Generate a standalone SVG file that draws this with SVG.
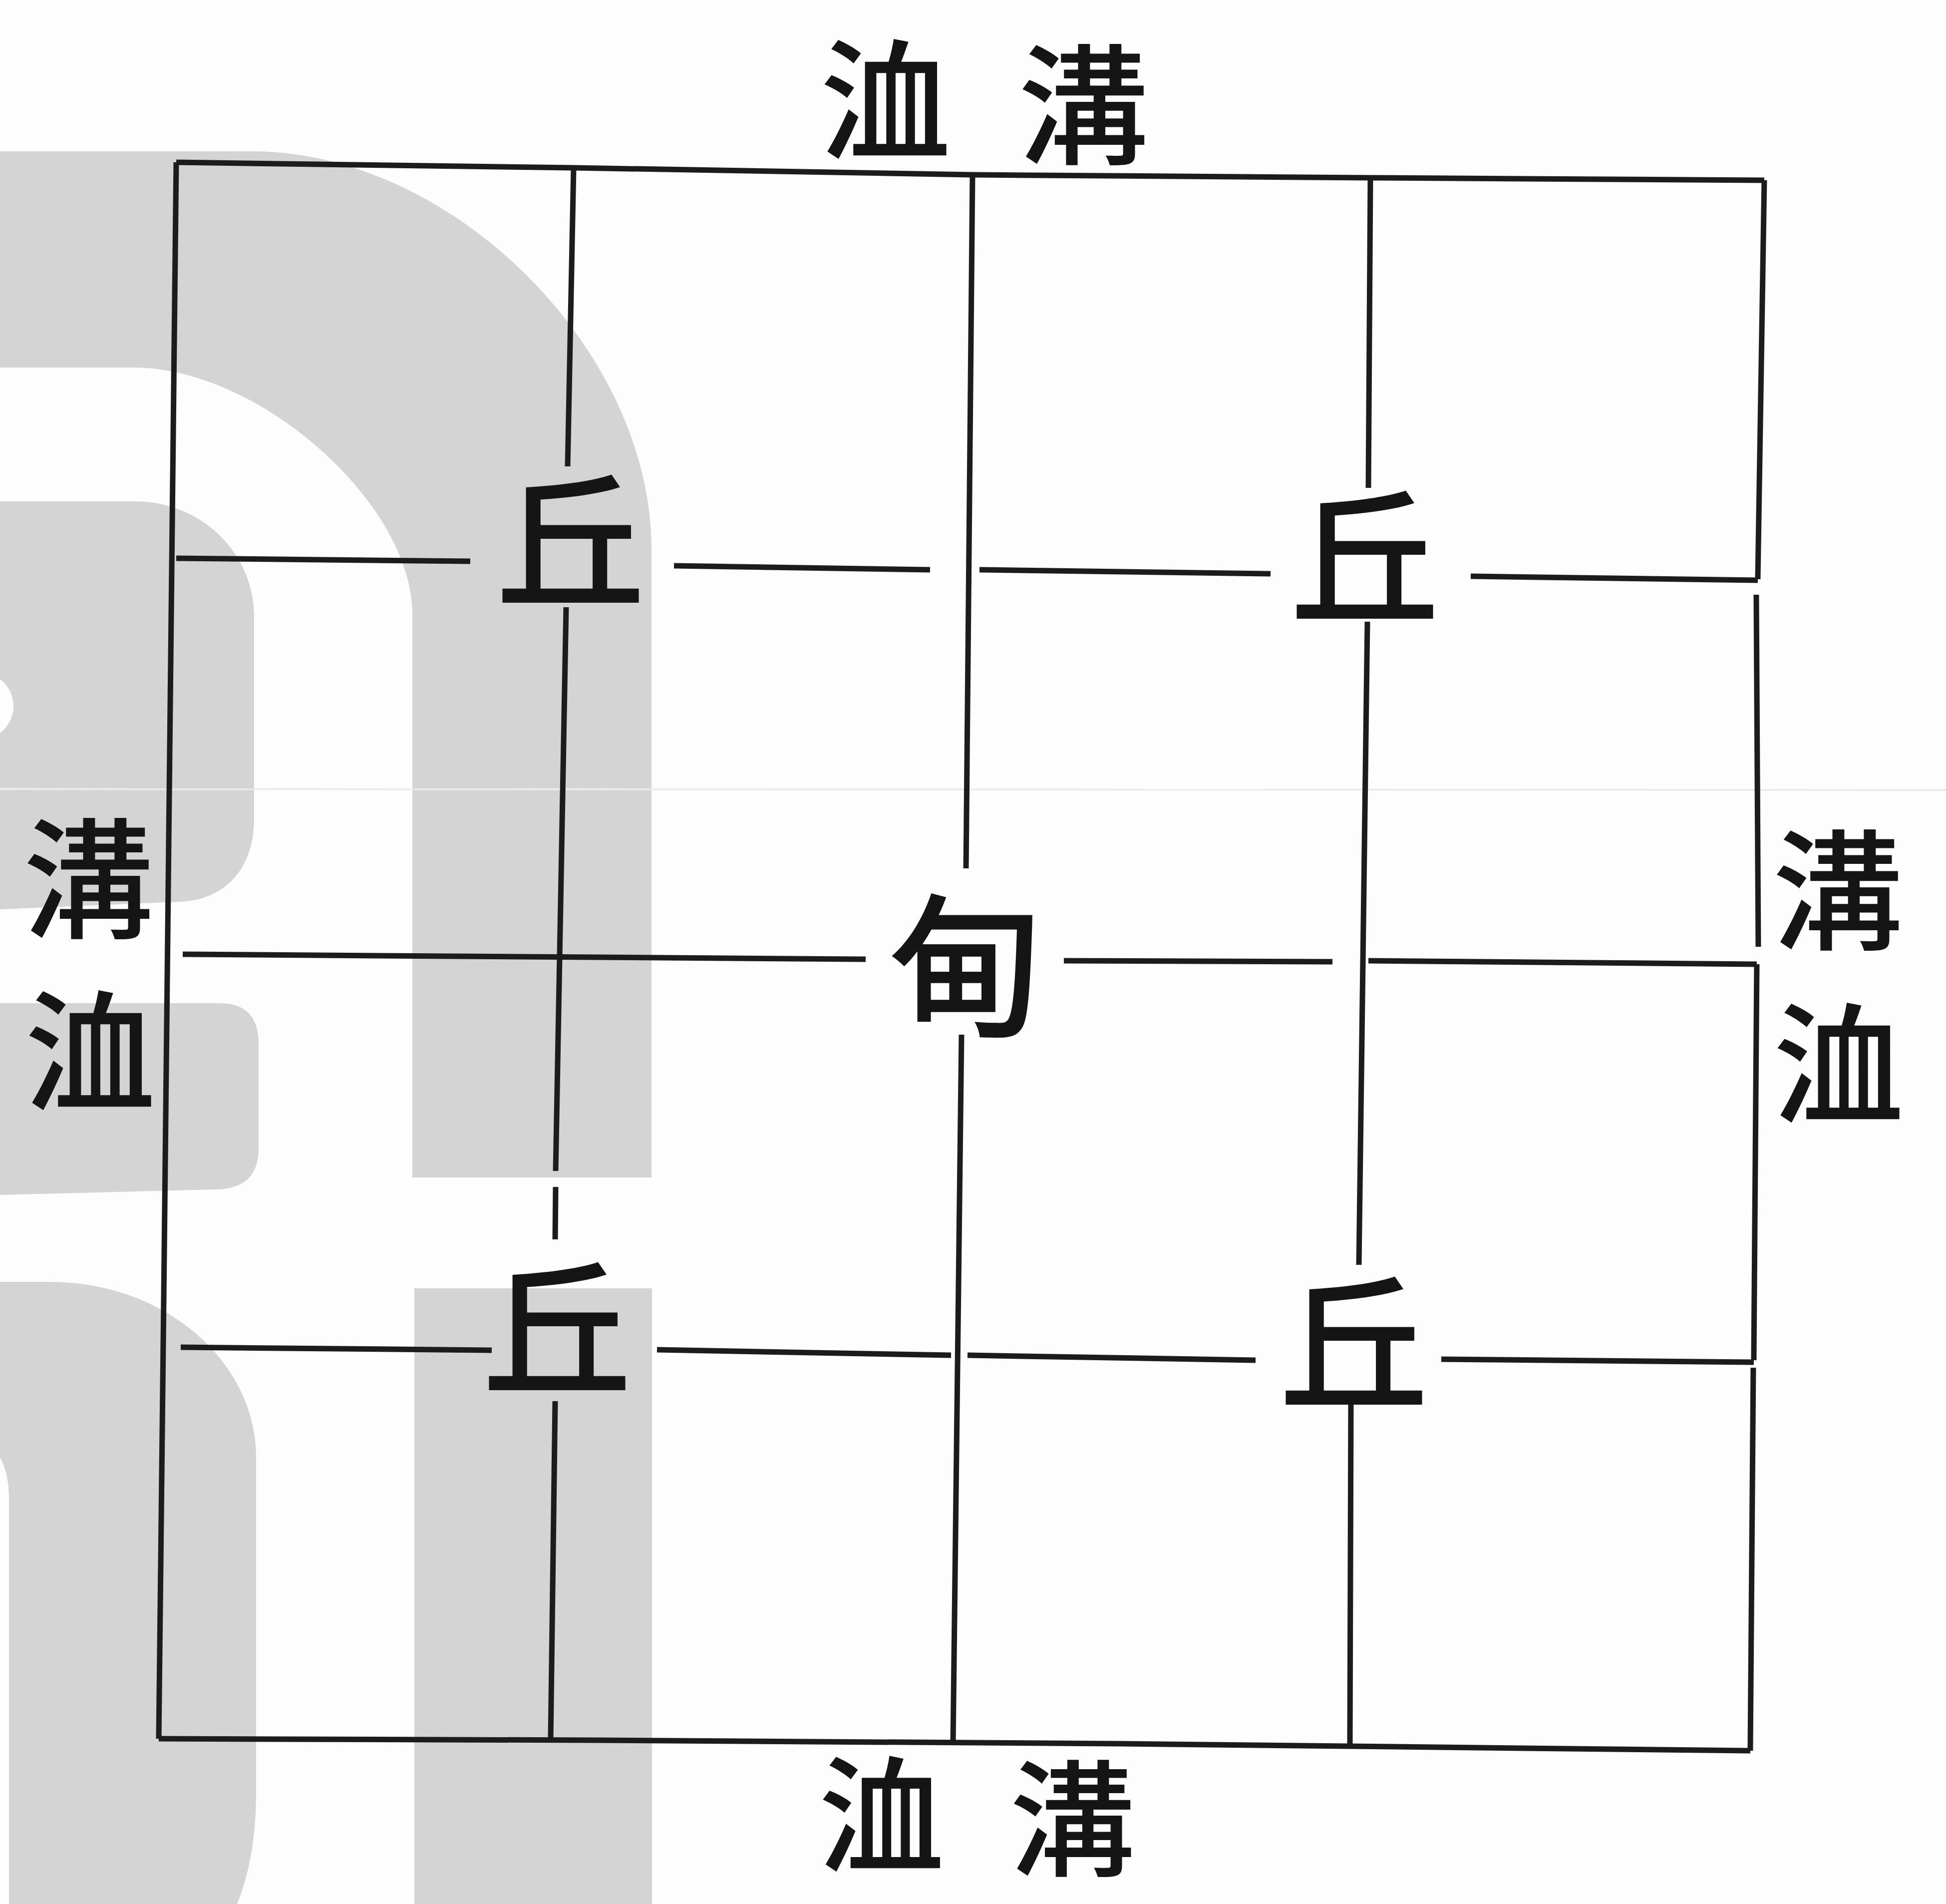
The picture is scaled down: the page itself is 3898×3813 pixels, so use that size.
<svg xmlns="http://www.w3.org/2000/svg" width="3898" height="3813" viewBox="0 0 3898 3813">
<style>
.bg{fill:#d4d4d4;stroke:none}
.ln{fill:none;stroke:#1c1c1c;stroke-width:11;stroke-linecap:butt;stroke-linejoin:miter}
.lbl{font-family:"Noto Sans CJK TC","Noto Sans CJK SC",sans-serif;font-weight:500;fill:#151515;text-anchor:middle;dominant-baseline:central}
.side{font-size:262px}
.bot{font-size:252px}
.qiu{font-size:300px}
.dian{font-size:310px}
</style>
<rect x="0" y="0" width="3898" height="3813" fill="#fdfdfd"/>
<g id="watermark">
  <path class="bg" d="M0,303 L505,303 C905,303 1305,700 1305,1100 L1305,2358 L826,2358 L826,1230 C826,1008 519,736 268,736 L0,736 Z"/>
  <path class="bg" d="M0,1004 L270,1004 C402,1004 509,1106 509,1235 L509,1640 C509,1740 450,1804 357,1806 L0,1821 Z"/>
  <circle cx="-40" cy="1414" r="67" fill="#fdfdfd"/>
  <path class="bg" d="M0,2009 L440,2009 Q518,2009 518,2090 L518,2300 Q518,2382 430,2382 L0,2393 Z"/>
  <path class="bg" d="M0,2567 L100,2567 C328,2567 513,2725 513,2919 L513,3589 Q513,3720 475,3813 L18,3813 L18,3002 Q18,2950 0,2919 Z"/>
  <rect class="bg" x="830" y="2580" width="476" height="1233"/>
  <line x1="0" y1="1580" x2="3898" y2="1582" stroke="#ebebeb" stroke-width="4"/>
</g>
<g id="connectors">
  <path id="frame-top" class="ln" d="M353,325 L1149,336 L1948,350 L2745,356 L3534,361"/>
  <path id="frame-left" class="ln" d="M353,325 L340,1500 L328,2600 L318,3482"/>
  <path id="frame-bottom" class="ln" d="M318,3482 L1200,3485 L2245,3492 L3506,3506"/>
  <path id="frame-right" class="ln" d="M3534,361 L3521,1160 M3518,1191 L3522,1896 M3519,1931 L3513,2724 M3512,2739 L3506,3506"/>
  <path id="v1" class="ln" d="M1149,336 L1137,934 M1134,1216 L1113,2345 M1113,2377 L1112,2482 M1112,2806 L1103,3483"/>
  <path id="v2" class="ln" d="M1948,350 L1935,1739 M1926,2072 L1909,3490"/>
  <path id="v3" class="ln" d="M2745,356 L2741,977 M2739,1245 L2722,2533 M2706,2810 L2704,3496"/>
  <path id="h1" class="ln" d="M353,1118 L942,1124 M1350,1133 L1863,1141 M1962,1141 L2545,1149 M2946,1154 L3521,1162"/>
  <path id="h2" class="ln" d="M366,1911 L1734,1921 M2131,1924 L2669,1926 M2741,1924 L3519,1931"/>
  <path id="h3" class="ln" d="M362,2698 L985,2704 M1316,2703 L1905,2714 M1938,2714 L2515,2724 M2887,2722 L3513,2728"/>
</g>
<g id="label-top-xu"><text class="lbl side" x="1774" y="185">洫</text></g>
<g id="label-top-gou"><text class="lbl side" x="2170" y="195">溝</text></g>
<g id="label-bottom-xu"><text class="lbl bot" x="1766" y="3620">洫</text></g>
<g id="label-bottom-gou"><text class="lbl bot" x="2148" y="3628">溝</text></g>
<g id="label-left-gou"><text class="lbl side" x="177" y="1745">溝</text></g>
<g id="label-left-xu"><text class="lbl side" x="181" y="2090">洫</text></g>
<g id="label-right-gou"><text class="lbl side" x="3681" y="1768">溝</text></g>
<g id="label-right-xu"><text class="lbl side" x="3683" y="2115">洫</text></g>
<g id="qiu-tl"><text class="lbl qiu" x="1143" y="1066">丘</text></g>
<g id="qiu-tr"><text class="lbl qiu" x="2734" y="1098">丘</text></g>
<g id="qiu-bl"><text class="lbl qiu" x="1116" y="2643">丘</text></g>
<g id="qiu-br"><text class="lbl qiu" x="2712" y="2672">丘</text></g>
<g id="dian"><text class="lbl dian" x="1934" y="1916">甸</text></g>
</svg>
